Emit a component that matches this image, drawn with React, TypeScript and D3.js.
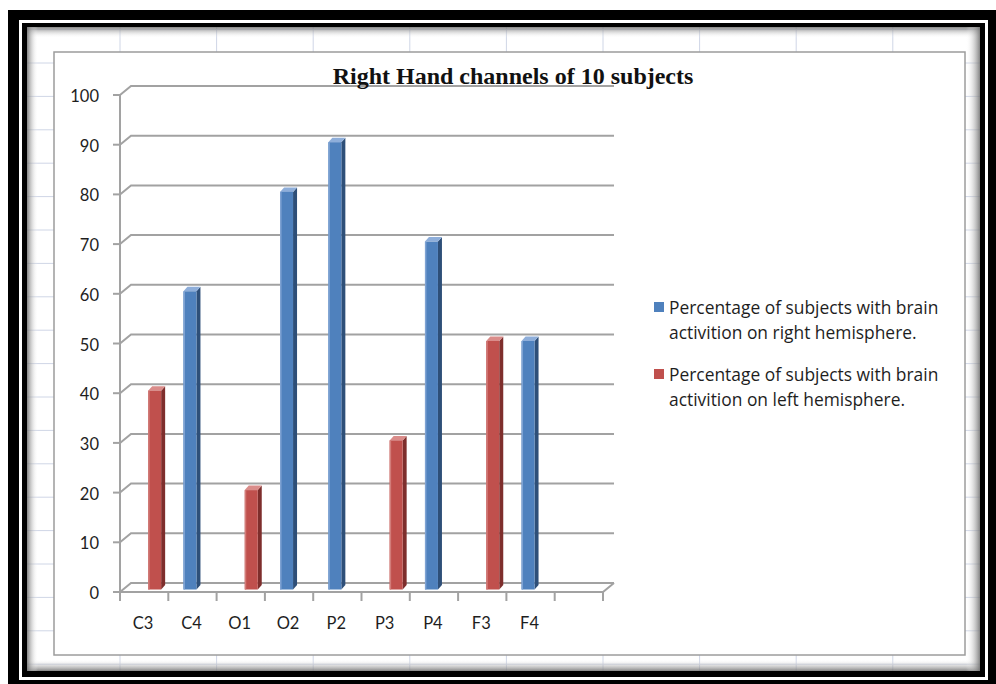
import React from "react";
import * as d3 from "d3";

const categories = ["C3", "C4", "O1", "O2", "P2", "P3", "P4", "F3", "F4", ""];
const rightHemisphere = [null, 60, null, 80, 90, null, 70, null, 50, null];
const leftHemisphere = [40, null, 20, null, null, 30, null, 50, null, null];
const seriesNames = [
  "Percentage of subjects with brain activition on right hemisphere.",
  "Percentage of subjects with brain activition on left hemisphere.",
];
const legendLines = [
  ["Percentage of subjects with brain", "activition on right hemisphere."],
  ["Percentage of subjects with brain", "activition on left hemisphere."],
];
const yTicks = [0, 10, 20, 30, 40, 50, 60, 70, 80, 90, 100];
const title = "Right Hand channels of 10 subjects";

const W = 996;
const H = 684;
const FONT = "Lato, 'Open Sans', sans-serif";
const LEGEND_FONT = "'Open Sans', Lato, sans-serif";

const colors = [
  { front: "#4F81BD", side: "#2E4F78", top: "#8EAEDA", light: "#7FA3D3" },
  { front: "#C0504D", side: "#7E2E2C", top: "#DA8C8A", light: "#D27C79" },
];

export default function App() {
  const x0 = 120;
  const x1 = 603;
  const DX = 11;
  const DY = -9;
  const x = d3.scaleBand<string>().domain(categories).range([x0, x1]).padding(0);
  const y = d3.scaleLinear().domain([0, 100]).range([592, 95]);
  const bw = x.bandwidth();
  const inner = d3
    .scaleBand<number>()
    .domain([0, 1])
    .range([bw / 2 - 9, bw / 2 + 17])
    .padding(0);
  const barW = inner.bandwidth();
  const bdx = 4;
  const bdy = -4.5;
  const barShift = -2.5;

  const series = [rightHemisphere, leftHemisphere];

  const boundaries = categories.map((c) => x(c) as number).concat([x1]);

  // spreadsheet grid
  const colLines: number[] = [];
  for (let i = 0; i < 12; i++) colLines.push(23.4 + i * 96.6);
  const rowLines: number[] = [];
  for (let i = 0; i < 22; i++) rowLines.push(29.6 + i * 33.4);

  const gridColor = "#a2a2a2";

  return (
    <svg
      width={W}
      height={H}
      viewBox={`0 0 ${W} ${H}`}
      style={{ position: "absolute", left: 0, top: 0, display: "block" }}
    >
      <defs>
        <linearGradient id="shT" x1="0" y1="0" x2="0" y2="1">
          <stop offset="0" stopColor="#6e6e6e" stopOpacity="0.85" />
          <stop offset="1" stopColor="#ffffff" stopOpacity="0" />
        </linearGradient>
        <linearGradient id="shB" x1="0" y1="1" x2="0" y2="0">
          <stop offset="0" stopColor="#6e6e6e" stopOpacity="0.85" />
          <stop offset="1" stopColor="#ffffff" stopOpacity="0" />
        </linearGradient>
        <linearGradient id="shL" x1="0" y1="0" x2="1" y2="0">
          <stop offset="0" stopColor="#6e6e6e" stopOpacity="0.85" />
          <stop offset="1" stopColor="#ffffff" stopOpacity="0" />
        </linearGradient>
        <linearGradient id="shR" x1="1" y1="0" x2="0" y2="0">
          <stop offset="0" stopColor="#6e6e6e" stopOpacity="0.85" />
          <stop offset="1" stopColor="#ffffff" stopOpacity="0" />
        </linearGradient>
        <clipPath id="sheet">
          <rect x={27} y={27} width={953} height={644} />
        </clipPath>
      </defs>

      <rect x={0} y={0} width={W} height={H} fill="#ffffff" />
      {/* outer frame */}
      <rect x={8} y={10} width={W - 8} height={H - 10} fill="#000" />
      <rect x={19} y={20} width={969} height={660} fill="#fff" />
      <rect x={22} y={23} width={963} height={654} fill="#000" />
      <rect x={27} y={27} width={953} height={644} fill="#fff" />

      {/* spreadsheet grid */}
      <g clipPath="url(#sheet)">
        {colLines.map((cx, i) => (
          <line key={"c" + i} x1={cx} x2={cx} y1={27} y2={671} stroke="#cfd6e6" strokeWidth={1} />
        ))}
        {rowLines.map((ry, i) => (
          <line key={"r" + i} x1={27} x2={980} y1={ry} y2={ry} stroke="#cfd6e6" strokeWidth={1} />
        ))}
        <rect x={27} y={27} width={953} height={11} fill="url(#shT)" />
        <rect x={27} y={659} width={953} height={12} fill="url(#shB)" />
        <rect x={27} y={27} width={11} height={644} fill="url(#shL)" />
        <rect x={966} y={27} width={14} height={644} fill="url(#shR)" />
      </g>

      {/* chart area */}
      <rect x={54} y={52} width={911} height={603} fill="#fff" stroke="#9c9c9c" strokeWidth={1.5} />

      {/* gridlines (3D walls) */}
      <g fill="none" stroke={gridColor} strokeWidth={2}>
        {yTicks.map((v) => (
          <path
            key={"g" + v}
            d={`M${x0},${y(v)} L${x0 + DX},${y(v) + DY} L${x1 + DX},${y(v) + DY}`}
          />
        ))}
        {yTicks.map((v) => (
          <path key={"t" + v} d={`M${x0 - 7},${y(v)} L${x0},${y(v)}`} />
        ))}
        <path d={`M${x0},${y(100)} L${x0},${y(0)}`} />
        <path d={`M${x0},${y(0)} L${x1},${y(0)} L${x1 + DX},${y(0) + DY}`} />
        {boundaries.map((bx, i) => (
          <path key={"xt" + i} d={`M${bx},${y(0)} L${bx},${y(0) + 9}`} />
        ))}
      </g>

      {/* bars */}
      {series.map((vals, si) =>
        vals.map((v, ci) => {
          if (v == null) return null;
          const c = colors[si];
          const xl = (x(categories[ci]) as number) + (inner(si) as number);
          const xr = xl + barW;
          const yt = y(v) + barShift;
          const yb = y(0) + barShift;
          return (
            <g key={`b${si}-${ci}`}>
              <path
                d={`M${xr},${yt} L${xr + bdx},${yt + bdy} L${xr + bdx},${yb + bdy} L${xr},${yb} Z`}
                fill={c.side}
              />
              <path
                d={`M${xl},${yt} L${xl + bdx},${yt + bdy} L${xr + bdx},${yt + bdy} L${xr},${yt} Z`}
                fill={c.top}
              />
              <rect x={xl} y={yt} width={barW} height={yb - yt} fill={c.front} />
              <rect x={xl} y={yt} width={1.5} height={yb - yt} fill={c.light} />
            </g>
          );
        })
      )}

      {/* title */}
      <text
        x={513}
        y={84}
        textAnchor="middle"
        fontFamily="'Liberation Serif', 'Times New Roman', serif"
        fontWeight="bold"
        fontSize={24}
        fill="#111"
      >
        {title}
      </text>

      {/* y labels */}
      <g fontFamily={FONT} fontSize={16.5} fill="#1e1e1e" textAnchor="end">
        {yTicks.map((v) => (
          <text key={"yl" + v} x={99} y={y(v) + 7}>
            {v}
          </text>
        ))}
      </g>

      {/* x labels */}
      <g fontFamily={FONT} fontSize={16.5} fill="#1e1e1e" textAnchor="middle">
        {categories.map((c) =>
          c ? (
            <text key={"xl" + c} x={(x(c) as number) + bw / 2 - 1} y={629}>
              {c}
            </text>
          ) : null
        )}
      </g>

      {/* legend */}
      <g fontFamily={LEGEND_FONT} fontSize={17.4} fill="#1e1e1e">
        {seriesNames.map((name, i) => {
          const top = 302 + i * 67;
          return (
            <g key={"lg" + i}>
              <title>{name}</title>
              <rect x={654} y={top} width={10} height={10} fill={colors[i].front} />
              <text x={669} y={top + 11.5}>
                {legendLines[i][0]}
              </text>
              <text x={669} y={top + 37}>
                {legendLines[i][1]}
              </text>
            </g>
          );
        })}
      </g>
    </svg>
  );
}
